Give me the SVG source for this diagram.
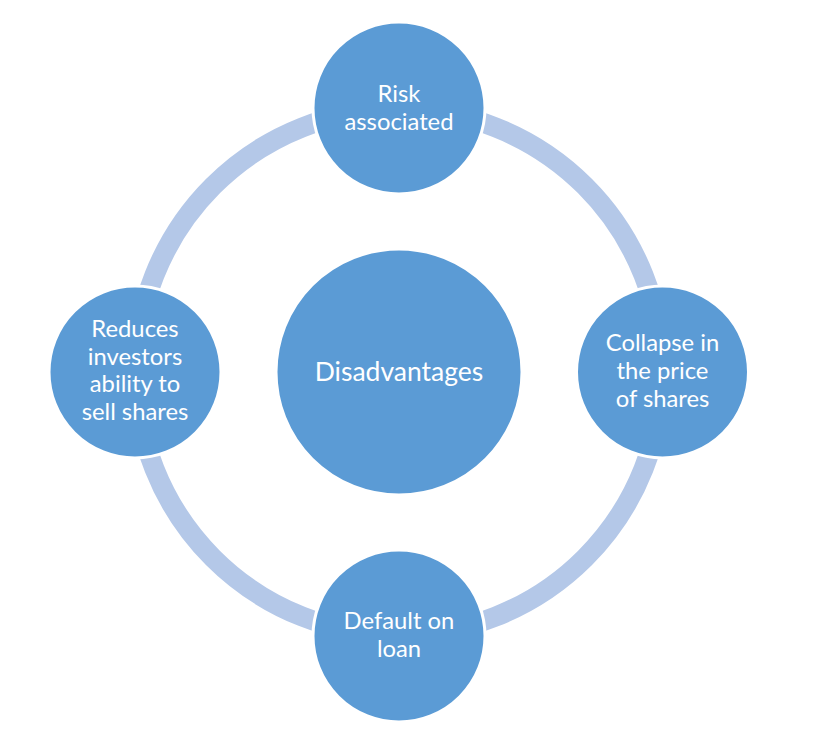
<svg xmlns="http://www.w3.org/2000/svg" width="822" height="755" viewBox="0 0 822 755">
  <style>
    .node { fill: #5B9BD5; stroke: #FFFFFF; stroke-width: 3; }
    .lbl { fill: #FFFFFF; font-family: Lato, "Liberation Sans", sans-serif; font-size: 23.8px; text-anchor: middle; }
    .big { font-size: 26.5px; }
    .ring { fill: none; stroke: #B4C8E8; stroke-width: 20; }
  </style>
  <rect width="822" height="755" fill="#FFFFFF"/>
  <g id="connectors">
    <circle class="ring" cx="399" cy="372" r="263"/>
  </g>
  <g id="center">
    <circle class="node" cx="399" cy="372" r="123"/>
    <text class="lbl big" x="399" y="380.5">Disadvantages</text>
  </g>
  <g id="risk">
    <circle class="node" cx="399" cy="108" r="86"/>
    <text class="lbl" x="399" y="102">Risk</text>
    <text class="lbl" x="399" y="129.5">associated</text>
  </g>
  <g id="collapse">
    <circle class="node" cx="662.5" cy="372" r="86"/>
    <text class="lbl" x="662.5" y="351">Collapse in</text>
    <text class="lbl" x="662.5" y="379">the price</text>
    <text class="lbl" x="662.5" y="407">of shares</text>
  </g>
  <g id="default">
    <circle class="node" cx="399" cy="636" r="86"/>
    <text class="lbl" x="399" y="628.5">Default on</text>
    <text class="lbl" x="399" y="656.5">loan</text>
  </g>
  <g id="reduces">
    <circle class="node" cx="135" cy="372" r="86"/>
    <text class="lbl" x="135" y="337">Reduces</text>
    <text class="lbl" x="135" y="364.5">investors</text>
    <text class="lbl" x="135" y="392">ability to</text>
    <text class="lbl" x="135" y="420">sell shares</text>
  </g>
</svg>
